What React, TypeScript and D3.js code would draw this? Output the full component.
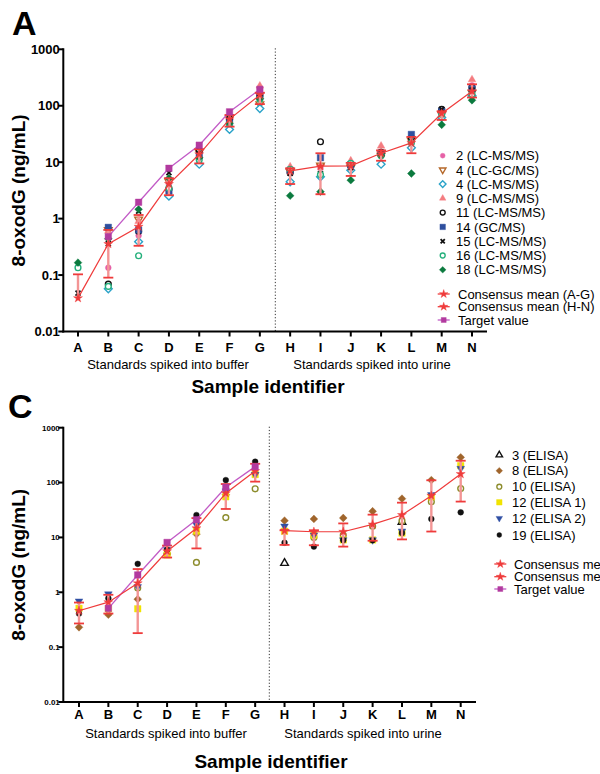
import React from 'react';
import * as d3 from 'd3';

const categories = ['A', 'B', 'C', 'D', 'E', 'F', 'G', 'H', 'I', 'J', 'K', 'L', 'M', 'N'];
const bufferCats = ['A', 'B', 'C', 'D', 'E', 'F', 'G'];
const urineCats = ['H', 'I', 'J', 'K', 'L', 'M', 'N'];
const targetCats = ['B', 'C', 'D', 'E', 'F', 'G'];
const yTickValues = [0.01, 0.1, 1, 10, 100, 1000];
const yTickLabels = ['0.01', '0.1', '1', '10', '100', '1000'];

// ---------- Panel A data ----------
const a_lab2 = [null, 0.135, 0.5, 4.0, 13, 55, 200, 6.5, 8, 8.5, 14, 22, 75, 230];
const a_lab4gc = [null, 0.63, 0.97, 4.5, 15, 60, 107, 6.8, 8.8, 8, 13, 24, 70, 170];
const a_lab4lc = [null, 0.057, 0.39, 2.5, 9.2, 38, 89, 4.5, 5.5, 7.2, 9.2, 18, 62, 150];
const a_lab9 = [null, 0.6, 0.9, 4.8, 17, 62, 225, 8.3, 3.0, 10.6, 19.4, 26, 80, 290];
const a_lab11 = [null, 0.069, 0.6, 3.3, 16, 58, 150, 6.5, 23, 8.8, 15, 27, 86, 210];
const a_lab14 = [null, 0.7, 0.63, 3.1, 13, 50, 145, 7.2, 12, 9, 14.5, 31, 80, 200];
const a_lab15 = [0.048, 0.36, 1.35, 6.5, 16, 65, 140, 6.3, 6.3, 8, 15, 26, 86, 190];
const a_lab16 = [0.135, 0.063, 0.22, 3.5, 11, 48, 130, 7.5, 6, 9.5, 13, 22, 70, 160];
const a_lab18 = [0.166, 0.44, 1.46, 5.2, 12, 49, 134, 2.55, 3.0, 4.8, 13, 6.3, 46, 125];
const a_consAG = [0.039, 0.355, 0.72, 4.1, 13.8, 58, 155];
const a_consAGhi = [0.103, 0.63, 1.16, 5.2, 17, 68.6, 170];
const a_consAGlo = [null, 0.09, 0.33, 2.6, 9.5, 42.6, 107];
const a_consHN = [7.0, 8.5, 8.6, 14.4, 22, 73, 180];
const a_consHNhi = [7.8, 14.4, 9.7, 16.2, 28, 80, 240];
const a_consHNlo = [4.1, 2.7, 5.7, 10.6, 14.4, 56, 140];
const a_target = [0.48, 1.95, 7.8, 20, 78, 195];

// ---------- Panel C data ----------
const c_lab3 = [null, null, null, null, null, null, null, 3.4, null, null, null, 19, null, null];
const c_lab8 = [0.23, 0.39, 0.75, 5.0, 11.5, 60, 150, 20.2, 21.7, 22.6, 30, 50.8, 111, 288];
const c_lab10 = [null, null, 1.2, 5, 3.5, 23, 77, null, 10, 11, 16, 20, 44.7, 78];
const c_lab12a = [0.51, 0.5, 0.5, 4.8, 13, 55, 140, 13, 11, 9, 9, 12, 55, 203];
const c_lab12b = [0.69, 0.93, 1.26, 6, 17, 70, 140, 16, 11, 9, 9, 13, 60, 180];
const c_lab19 = [0.41, 0.78, 3.3, 6, 25.6, 111, 240, 8.0, 6.8, 8.9, 8.9, 12, 21.7, 28.7];
const c_consAG = [0.46, 0.66, 1.46, 5.6, 14.7, 64, 162];
const c_consAGhi = [0.65, 0.9, 2.65, 7.1, 22.5, 94, 220];
const c_consAGlo = [0.27, 0.41, 0.18, 4.3, 6.3, 33, 104];
const c_consHN = [13.3, 12.7, 12.7, 17.3, 25.6, 57.7, 143];
const c_consHNhi = [13.5, 13.5, 18, 26, 43, 110, 250];
const c_consHNlo = [7.3, 7.2, 6.8, 8.7, 9.2, 12.8, 45];
const c_target = [0.51, 2.07, 8.1, 21, 82, 195];

const FONT = "'Liberation Sans', Arial, Helvetica, sans-serif";
const RED = '#ef3b3b';
const RED_STEM = '#f39595';
const MAGENTA = '#b23a9f';
const MAG_LINE = '#c25bc6';

type Shape = 'circle' | 'triangle' | 'invtriangle' | 'diamond' | 'square' | 'x' | 'star';
type Lab = { name: string; values: (number | null)[]; shape: Shape; color: string; filled: boolean };

const labsA: Lab[] = [
  { name: '2 (LC-MS/MS)', values: a_lab2, shape: 'circle', color: '#e661a6', filled: true },
  { name: '4 (LC-GC/MS)', values: a_lab4gc, shape: 'invtriangle', color: '#b5682a', filled: false },
  { name: '4 (LC-MS/MS)', values: a_lab4lc, shape: 'diamond', color: '#2aa3c9', filled: false },
  { name: '9 (LC-MS/MS)', values: a_lab9, shape: 'triangle', color: '#f47c80', filled: true },
  { name: '11 (LC-MS/MS)', values: a_lab11, shape: 'circle', color: '#111111', filled: false },
  { name: '14 (GC/MS)', values: a_lab14, shape: 'square', color: '#2e4f9e', filled: true },
  { name: '15 (LC-MS/MS)', values: a_lab15, shape: 'x', color: '#111111', filled: true },
  { name: '16 (LC-MS/MS)', values: a_lab16, shape: 'circle', color: '#25b07c', filled: false },
  { name: '18 (LC-MS/MS)', values: a_lab18, shape: 'diamond', color: '#0b7a3e', filled: true },
];

const labsC: Lab[] = [
  { name: '3 (ELISA)', values: c_lab3, shape: 'triangle', color: '#111111', filled: false },
  { name: '8 (ELISA)', values: c_lab8, shape: 'diamond', color: '#a0652c', filled: true },
  { name: '10 (ELISA)', values: c_lab10, shape: 'circle', color: '#8c8c2c', filled: false },
  { name: '12 (ELISA 1)', values: c_lab12a, shape: 'square', color: '#f1e400', filled: true },
  { name: '12 (ELISA 2)', values: c_lab12b, shape: 'invtriangle', color: '#2f4fa3', filled: true },
  { name: '19 (ELISA)', values: c_lab19, shape: 'circle', color: '#111111', filled: true },
];

function shapePath(shape: Shape, s: number): string {
  switch (shape) {
    case 'circle':
      return d3.symbol(d3.symbolCircle, s * s * 0.62)() as string;
    case 'square':
      return d3.symbol(d3.symbolSquare, s * s)() as string;
    case 'triangle':
    case 'invtriangle':
      return d3.symbol(d3.symbolTriangle, s * s * 0.6)() as string;
    case 'star':
      return d3.symbol(d3.symbolStar, s * s * 0.45)() as string;
    case 'diamond': {
      const r = s * 0.6;
      return `M0,${-r}L${r},0L0,${r}L${-r},0Z`;
    }
    case 'x': {
      const r = s * 0.38;
      return `M${-r},${-r}L${r},${r}M${-r},${r}L${r},${-r}`;
    }
  }
  return '';
}

function Marker({ shape, x, y, color, filled, s }: { shape: Shape; x: number; y: number; color: string; filled: boolean; s: number }) {
  const tr = `translate(${x},${y})` + (shape === 'invtriangle' ? ' rotate(180)' : '');
  if (shape === 'x') {
    return <path d={shapePath(shape, s)} transform={tr} fill="none" stroke={color} strokeWidth={1.8} />;
  }
  return (
    <path
      d={shapePath(shape, s)}
      transform={tr}
      fill={filled ? color : 'white'}
      stroke={color}
      strokeWidth={filled ? 0.4 : 1.4}
    />
  );
}

type PanelCfg = {
  letter: string;
  letterX: number;
  letterY: number;
  letterSize: number;
  labs: Lab[];
  consAG: number[];
  consAGhi: (number | null)[];
  consAGlo: (number | null)[];
  consHN: number[];
  consHNhi: (number | null)[];
  consHNlo: (number | null)[];
  target: number[];
  xRange: [number, number];
  yRange: [number, number];
  axisX: number;
  axisEnd: number;
  dotX: number;
  yTickSize: number;
  xTickSize: number;
  xLabelY: number;
  subY: number;
  subBufferX: number;
  subUrineX: number;
  titleY: number;
  titleX: number;
  yTitleX: number;
  legendMarkerX: number;
  legendTextX: number;
  legendRows: number[];
  legendConsRows: number[];
};

function Panel({ cfg }: { cfg: PanelCfg }) {
  const x = d3.scalePoint<string>().domain(categories).range(cfg.xRange);
  const y = d3.scaleLog().domain([0.01, 1000]).range(cfg.yRange);
  const yTop = cfg.yRange[1];
  const yBot = cfg.yRange[0];
  const line = d3
    .line<[string, number]>()
    .x((d) => x(d[0]) as number)
    .y((d) => y(d[1]));
  const ag: [string, number][] = bufferCats.map((c, i) => [c, cfg.consAG[i]]);
  const hn: [string, number][] = urineCats.map((c, i) => [c, cfg.consHN[i]]);
  const tg: [string, number][] = targetCats.map((c, i) => [c, cfg.target[i]]);

  const errBars = (cats: string[], mid: number[], hi: (number | null)[], lo: (number | null)[]) =>
    cats.map((c, i) => {
      const cx = x(c) as number;
      const yHi = hi[i] != null ? y(hi[i] as number) : y(mid[i]);
      const yLo = lo[i] != null ? y(lo[i] as number) : y(mid[i]);
      return (
        <g key={'e' + c}>
          <line x1={cx} x2={cx} y1={yHi} y2={yLo} stroke={RED_STEM} strokeWidth={2.4} />
          {hi[i] != null && <line x1={cx - 5} x2={cx + 5} y1={yHi} y2={yHi} stroke={RED} strokeWidth={1.8} />}
          {lo[i] != null && <line x1={cx - 5} x2={cx + 5} y1={yLo} y2={yLo} stroke={RED} strokeWidth={1.8} />}
        </g>
      );
    });

  const midY = (yTop + yBot) / 2;

  return (
    <g fontFamily={FONT}>
      <text x={cfg.letterX} y={cfg.letterY} fontSize={cfg.letterSize} fontWeight="bold">
        {cfg.letter}
      </text>
      {/* y axis title */}
      <text
        transform={`translate(${cfg.yTitleX},${midY}) rotate(-90)`}
        textAnchor="middle"
        fontSize={19}
        fontWeight="bold"
      >
        8-oxodG (ng/mL)
      </text>
      {/* dotted separator */}
      <line x1={cfg.dotX} x2={cfg.dotX} y1={yTop - 1} y2={yBot} stroke="#333" strokeWidth={1} strokeDasharray="1.2,2" />
      {/* axes */}
      <line x1={cfg.axisX} x2={cfg.axisX} y1={yTop - 1} y2={yBot + 1} stroke="#000" strokeWidth={2} />
      <line x1={cfg.axisX - 1} x2={cfg.axisEnd} y1={yBot} y2={yBot} stroke="#000" strokeWidth={2} />
      {yTickValues.map((v, i) => (
        <g key={'yt' + v}>
          <line x1={cfg.axisX - 5} x2={cfg.axisX} y1={y(v)} y2={y(v)} stroke="#000" strokeWidth={2} />
          <text
            x={cfg.axisX - 3.5}
            y={y(v)}
            dy="0.35em"
            textAnchor="end"
            fontSize={cfg.yTickSize}
            fontWeight="bold"
          >
            {yTickLabels[i]}
          </text>
        </g>
      ))}
      {categories.map((c) => (
        <g key={'xt' + c}>
          <line x1={x(c) as number} x2={x(c) as number} y1={yBot} y2={yBot + 5} stroke="#000" strokeWidth={2} />
          <text x={x(c) as number} y={cfg.xLabelY} textAnchor="middle" fontSize={cfg.xTickSize} fontWeight="bold">
            {c}
          </text>
        </g>
      ))}
      <text x={cfg.subBufferX} y={cfg.subY} textAnchor="middle" fontSize={13}>
        Standards spiked into buffer
      </text>
      <text x={cfg.subUrineX} y={cfg.subY} textAnchor="middle" fontSize={13}>
        Standards spiked into urine
      </text>
      <text x={cfg.titleX} y={cfg.titleY} textAnchor="middle" fontSize={19} fontWeight="bold">
        Sample identifier
      </text>

      {/* lab points */}
      {cfg.labs.map((lab) =>
        lab.values.map((v, i) =>
          v == null ? null : (
            <Marker
              key={lab.name + i}
              shape={lab.shape}
              x={x(categories[i]) as number}
              y={y(v)}
              color={lab.color}
              filled={lab.filled}
              s={6.5}
            />
          )
        )
      )}

      {/* lines */}
      <path d={line(tg) as string} fill="none" stroke={MAG_LINE} strokeWidth={1.3} />
      <path d={line(ag) as string} fill="none" stroke={RED} strokeWidth={1.2} />
      <path d={line(hn) as string} fill="none" stroke={RED} strokeWidth={1.2} />

      {errBars(bufferCats, cfg.consAG, cfg.consAGhi, cfg.consAGlo)}
      {errBars(urineCats, cfg.consHN, cfg.consHNhi, cfg.consHNlo)}

      {ag.map((d) => (
        <Marker key={'sa' + d[0]} shape="star" x={x(d[0]) as number} y={y(d[1])} color={RED} filled s={7.5} />
      ))}
      {hn.map((d) => (
        <Marker key={'sh' + d[0]} shape="star" x={x(d[0]) as number} y={y(d[1])} color={RED} filled s={7.5} />
      ))}
      {tg.map((d) => (
        <Marker key={'tg' + d[0]} shape="square" x={x(d[0]) as number} y={y(d[1])} color={MAGENTA} filled s={6.5} />
      ))}

      {/* legend */}
      {cfg.labs.map((lab, i) => (
        <g key={'lg' + lab.name}>
          <Marker
            shape={lab.shape}
            x={cfg.legendMarkerX}
            y={cfg.legendRows[i]}
            color={lab.color}
            filled={lab.filled}
            s={5.5}
          />
          <text x={cfg.legendTextX} y={cfg.legendRows[i]} dy="0.36em" fontSize={13}>
            {lab.name}
          </text>
        </g>
      ))}
      {['Consensus mean (A-G)', 'Consensus mean (H-N)', 'Target value'].map((t, i) => {
        const ry = cfg.legendConsRows[i];
        const isT = i === 2;
        return (
          <g key={'lc' + t}>
            <line
              x1={cfg.legendMarkerX - 5}
              x2={cfg.legendMarkerX + 7}
              y1={ry}
              y2={ry}
              stroke={isT ? MAG_LINE : RED}
              strokeWidth={1.3}
            />
            <Marker
              shape={isT ? 'square' : 'star'}
              x={cfg.legendMarkerX + 1}
              y={ry}
              color={isT ? MAGENTA : RED}
              filled
              s={isT ? 5 : 7}
            />
            <text x={cfg.legendTextX + 2} y={ry} dy="0.36em" fontSize={13}>
              {t}
            </text>
          </g>
        );
      })}
    </g>
  );
}

const cfgA: PanelCfg = {
  letter: 'A',
  letterX: 12,
  letterY: 35,
  letterSize: 34,
  labs: labsA,
  consAG: a_consAG,
  consAGhi: a_consAGhi,
  consAGlo: a_consAGlo,
  consHN: a_consHN,
  consHNhi: a_consHNhi,
  consHNlo: a_consHNlo,
  target: a_target,
  xRange: [78, 472],
  yRange: [331.5, 49.3],
  axisX: 63.3,
  axisEnd: 487,
  dotX: 275.3,
  yTickSize: 13,
  xTickSize: 13,
  xLabelY: 351.5,
  subY: 369,
  subBufferX: 168,
  subUrineX: 372,
  titleY: 393,
  titleX: 268,
  yTitleX: 25,
  legendMarkerX: 442.7,
  legendTextX: 456,
  legendRows: [155.7, 169.9, 184.1, 198.3, 212.6, 226.9, 241.2, 255.5, 269.8],
  legendConsRows: [294, 306.7, 320],
};

const cfgC: PanelCfg = {
  letter: 'C',
  letterX: 8,
  letterY: 418,
  letterSize: 34,
  labs: labsC,
  consAG: c_consAG,
  consAGhi: c_consAGhi,
  consAGlo: c_consAGlo,
  consHN: c_consHN,
  consHNhi: c_consHNhi,
  consHNlo: c_consHNlo,
  target: c_target,
  xRange: [79, 460.7],
  yRange: [702, 427.7],
  axisX: 63.3,
  axisEnd: 476,
  dotX: 269.3,
  yTickSize: 8,
  xTickSize: 13,
  xLabelY: 718.5,
  subY: 737.5,
  subBufferX: 166,
  subUrineX: 363,
  titleY: 768,
  titleX: 271,
  yTitleX: 25,
  legendMarkerX: 499.3,
  legendTextX: 512,
  legendRows: [455, 470.7, 486.7, 502.3, 518.3, 535],
  legendConsRows: [564, 576.7, 589],
};

export default function App() {
  return (
    <svg
      width={600}
      height={774}
      viewBox="0 0 600 774"
      style={{ position: 'absolute', left: 0, top: 0, display: 'block', background: '#fff' }}
    >
      <rect width={600} height={774} fill="#fff" />
      <Panel cfg={cfgA} />
      <Panel cfg={cfgC} />
    </svg>
  );
}
